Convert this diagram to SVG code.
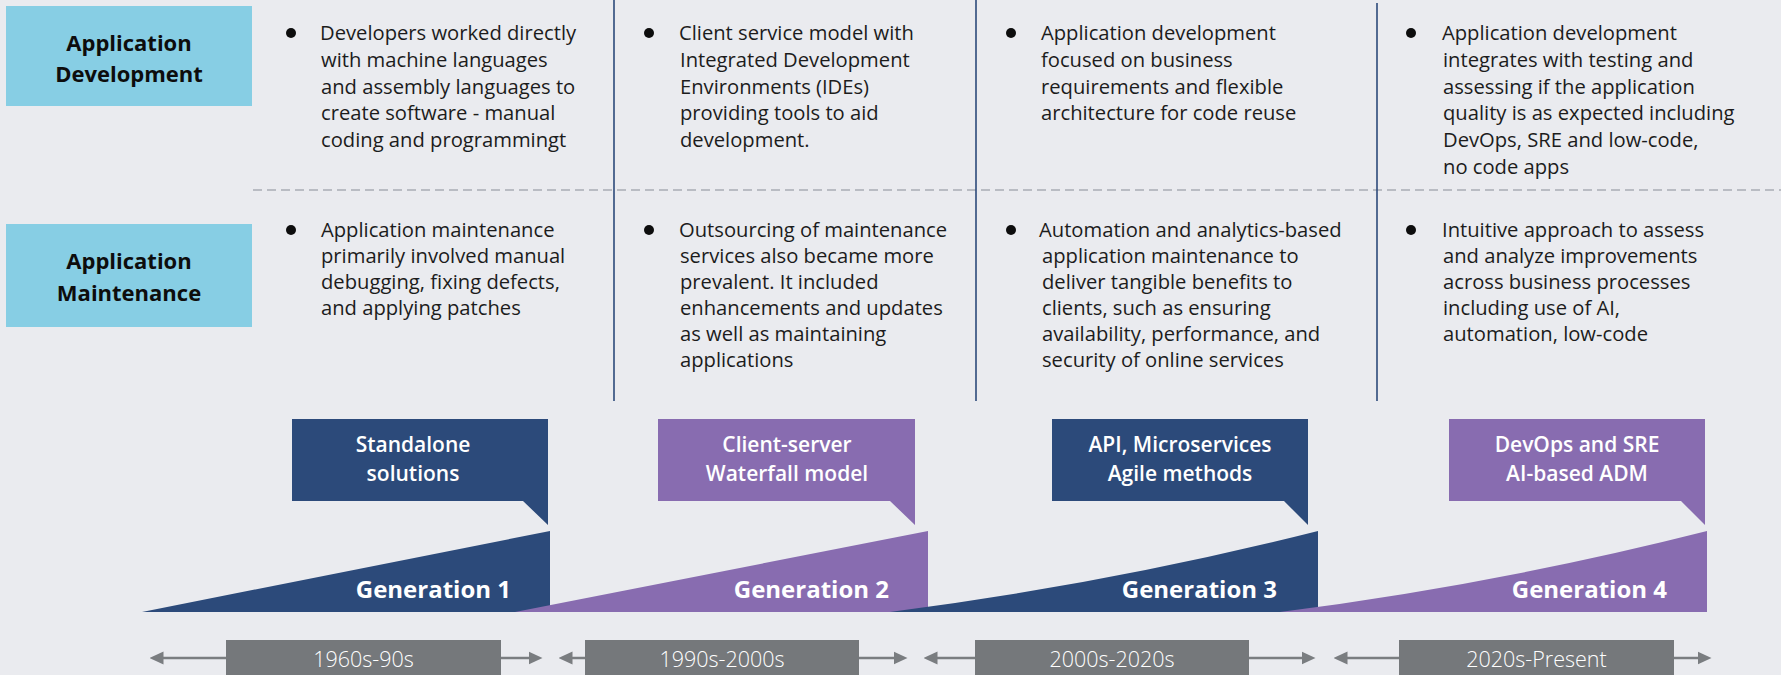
<svg xmlns="http://www.w3.org/2000/svg" width="1781" height="675" viewBox="0 0 1781 675">
<defs>
<style>
.bg{fill:#eaebef}
.lbl{fill:#87cee4}
.lt{font-family:"Open Sans","Liberation Sans",sans-serif;font-weight:700;font-size:22px;fill:#0d0d0d;text-anchor:middle}
.bt{font-family:"Open Sans","Liberation Sans",sans-serif;font-size:20.2px;fill:#1c1c1c}
.dot{fill:#0d0d0d}
.vl{stroke:#2c4a7a;stroke-width:1.6}
.dash{stroke:#b9bcc3;stroke-width:2;stroke-dasharray:9 5}
.navy{fill:#2c4a7a}
.purple{fill:#886cb0}
.ct{font-family:"Open Sans","Liberation Sans",sans-serif;font-weight:600;font-size:21px;fill:#ffffff;text-anchor:middle}
.gt{font-family:"Open Sans","Liberation Sans",sans-serif;font-weight:700;font-size:24px;fill:#ffffff;text-anchor:end}
.db{fill:#75787b}
.dt{font-family:"Open Sans","Liberation Sans",sans-serif;font-weight:300;font-size:21.5px;fill:#ffffff;text-anchor:middle}
.ar{stroke:#7a7d80;stroke-width:2.5;fill:none}
</style>
<marker id="ah" markerUnits="userSpaceOnUse" markerWidth="14" markerHeight="14" viewBox="0 0 12 12" refX="3" refY="6" orient="auto">
<path d="M0,0.5 L12,6 L0,11.5 z" fill="#7a7d80"/>
</marker>
</defs>
<rect class="bg" x="0" y="0" width="1781" height="675"/>

<g id="dividers">
<line class="dash" x1="253" y1="190" x2="1781" y2="190"/>
<line class="vl" x1="614" y1="0" x2="614" y2="401"/>
<line class="vl" x1="976" y1="0" x2="976" y2="401"/>
<line class="vl" x1="1377" y1="3" x2="1377" y2="401"/>
</g>

<g id="label-development">
<rect class="lbl" x="6" y="6" width="246" height="100"/>
<text class="lt" x="129" y="51">Application</text>
<text class="lt" x="129" y="82">Development</text>
</g>
<g id="label-maintenance">
<rect class="lbl" x="6" y="224" width="246" height="103"/>
<text class="lt" x="129" y="269">Application</text>
<text class="lt" x="129" y="301">Maintenance</text>
</g>

<g id="dev-gen1">
<circle class="dot" cx="291" cy="33" r="5"/>
<text class="bt" x="320" y="40">Developers worked directly</text>
<text class="bt" x="321" y="66.8">with machine languages</text>
<text class="bt" x="321" y="93.6">and assembly languages to</text>
<text class="bt" x="321" y="120.4">create software - manual</text>
<text class="bt" x="321" y="147.2">coding and programmingt</text>
</g>
<g id="dev-gen2">
<circle class="dot" cx="649" cy="33" r="5"/>
<text class="bt" x="679" y="40">Client service model with</text>
<text class="bt" x="680" y="66.8">Integrated Development</text>
<text class="bt" x="680" y="93.6">Environments (IDEs)</text>
<text class="bt" x="680" y="120.4">providing tools to aid</text>
<text class="bt" x="680" y="147.2">development.</text>
</g>
<g id="dev-gen3">
<circle class="dot" cx="1011" cy="33" r="5"/>
<text class="bt" x="1041" y="40">Application development</text>
<text class="bt" x="1041" y="66.8">focused on business</text>
<text class="bt" x="1041" y="93.6">requirements and flexible</text>
<text class="bt" x="1041" y="120.4">architecture for code reuse</text>
</g>
<g id="dev-gen4">
<circle class="dot" cx="1411" cy="33" r="5"/>
<text class="bt" x="1442" y="40">Application development</text>
<text class="bt" x="1443" y="66.8">integrates with testing and</text>
<text class="bt" x="1443" y="93.6">assessing if the application</text>
<text class="bt" x="1443" y="120.4">quality is as expected including</text>
<text class="bt" x="1443" y="147.2">DevOps, SRE and low-code,</text>
<text class="bt" x="1443" y="174">no code apps</text>
</g>

<g id="maint-gen1">
<circle class="dot" cx="291" cy="230" r="5"/>
<text class="bt" x="321" y="237">Application maintenance</text>
<text class="bt" x="321" y="263">primarily involved manual</text>
<text class="bt" x="321" y="289">debugging, fixing defects,</text>
<text class="bt" x="321" y="315">and applying patches</text>
</g>
<g id="maint-gen2">
<circle class="dot" cx="649" cy="230" r="5"/>
<text class="bt" x="679" y="237">Outsourcing of maintenance</text>
<text class="bt" x="680" y="263">services also became more</text>
<text class="bt" x="680" y="289">prevalent. It included</text>
<text class="bt" x="680" y="315">enhancements and updates</text>
<text class="bt" x="680" y="341">as well as maintaining</text>
<text class="bt" x="680" y="367">applications</text>
</g>
<g id="maint-gen3">
<circle class="dot" cx="1011" cy="230" r="5"/>
<text class="bt" x="1039" y="237">Automation and analytics-based</text>
<text class="bt" x="1042" y="263">application maintenance to</text>
<text class="bt" x="1042" y="289">deliver tangible benefits to</text>
<text class="bt" x="1042" y="315">clients, such as ensuring</text>
<text class="bt" x="1042" y="341">availability, performance, and</text>
<text class="bt" x="1042" y="367">security of online services</text>
</g>
<g id="maint-gen4">
<circle class="dot" cx="1411" cy="230" r="5"/>
<text class="bt" x="1442" y="237">Intuitive approach to assess</text>
<text class="bt" x="1443" y="263">and analyze improvements</text>
<text class="bt" x="1443" y="289">across business processes</text>
<text class="bt" x="1443" y="315">including use of AI,</text>
<text class="bt" x="1443" y="341">automation, low-code</text>
</g>

<g id="generation-1">
<path class="navy" d="M142,612 L550,531 L550,612 Z"/>
<text class="gt" x="511" y="598">Generation 1</text>
</g>
<g id="generation-2">
<path class="purple" d="M515,612 L928,531 L928,612 Z"/>
<text class="gt" x="889" y="598">Generation 2</text>
</g>
<g id="generation-3">
<path class="navy" d="M890,612 Q1108,584 1318,531 L1318,612 Z"/>
<text class="gt" x="1277" y="598">Generation 3</text>
</g>
<g id="generation-4">
<path class="purple" d="M1280,612 Q1498,584 1707,531 L1707,612 Z"/>
<text class="gt" x="1667" y="598">Generation 4</text>
</g>

<g id="callout-1">
<path class="navy" d="M292,419 H548 V525 L523,501 H292 Z"/>
<text class="ct" x="413" y="452">Standalone</text>
<text class="ct" x="413" y="481">solutions</text>
</g>
<g id="callout-2">
<path class="purple" d="M658,419 H915 V525 L890,501 H658 Z"/>
<text class="ct" x="787" y="452">Client-server</text>
<text class="ct" x="787" y="481">Waterfall model</text>
</g>
<g id="callout-3">
<path class="navy" d="M1052,419 H1308 V525 L1284,501 H1052 Z"/>
<text class="ct" x="1180" y="452">API, Microservices</text>
<text class="ct" x="1180" y="481">Agile methods</text>
</g>
<g id="callout-4">
<path class="purple" d="M1449,419 H1705 V525 L1681,501 H1449 Z"/>
<text class="ct" x="1577" y="452">DevOps and SRE</text>
<text class="ct" x="1577" y="481">AI-based ADM</text>
</g>

<g id="connectors">
<line class="ar" x1="226" y1="658" x2="160" y2="658" marker-end="url(#ah)"/>
<line class="ar" x1="501" y1="658" x2="532" y2="658" marker-end="url(#ah)"/>
<line class="ar" x1="585" y1="658" x2="569" y2="658" marker-end="url(#ah)"/>
<line class="ar" x1="859" y1="658" x2="897" y2="658" marker-end="url(#ah)"/>
<line class="ar" x1="975" y1="658" x2="934" y2="658" marker-end="url(#ah)"/>
<line class="ar" x1="1249" y1="658" x2="1305" y2="658" marker-end="url(#ah)"/>
<line class="ar" x1="1399" y1="658" x2="1344" y2="658" marker-end="url(#ah)"/>
<line class="ar" x1="1674" y1="658" x2="1701" y2="658" marker-end="url(#ah)"/>
</g>

<g id="period-1">
<rect class="db" x="226" y="640" width="275" height="40"/>
<text class="dt" x="363.5" y="667">1960s-90s</text>
</g>
<g id="period-2">
<rect class="db" x="585" y="640" width="274" height="40"/>
<text class="dt" x="722" y="667">1990s-2000s</text>
</g>
<g id="period-3">
<rect class="db" x="975" y="640" width="274" height="40"/>
<text class="dt" x="1112" y="667">2000s-2020s</text>
</g>
<g id="period-4">
<rect class="db" x="1399" y="640" width="275" height="40"/>
<text class="dt" x="1536.5" y="667">2020s-Present</text>
</g>
</svg>
